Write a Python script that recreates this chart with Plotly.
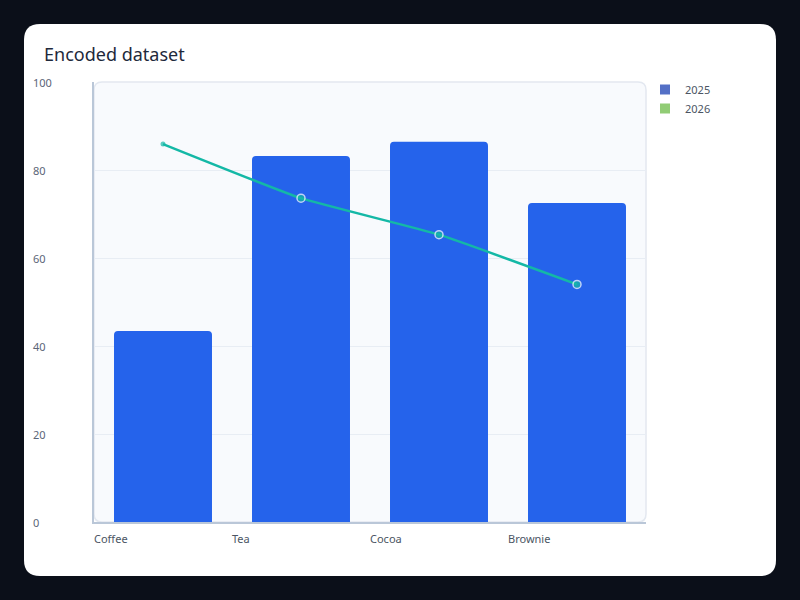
import plotly.graph_objects as go

categories = ["Coffee", "Tea", "Cocoa", "Brownie"]
bars_2025 = [43.4, 83.2, 86.4, 72.5]
line_2026 = [85.9, 73.6, 65.3, 54.0]
y_ticks = [0, 20, 40, 60, 80, 100]
legend_names = ["2025", "2026"]

W, H = 800, 600
L, R, T, B = 94, 154, 82, 78
pw, ph = W - L - R, H - T - B


def px_x(v):
    return (v - L) / pw


def px_y(v):
    return (H - B - v) / ph


def rounded_path(x0, y0, x1, y1, r):
    # pixel box -> paper coords path with rounded corners
    rx, ry = r / pw, r / ph
    a, b = px_x(x0), px_x(x1)
    top, bot = px_y(y0), px_y(y1)
    return (f"M {a + rx},{top} L {b - rx},{top} Q {b},{top} {b},{top - ry} "
            f"L {b},{bot + ry} Q {b},{bot} {b - rx},{bot} "
            f"L {a + rx},{bot} Q {a},{bot} {a},{bot + ry} "
            f"L {a},{top - ry} Q {a},{top} {a + rx},{top} Z")


fig = go.Figure()

fig.add_trace(go.Bar(
    x=categories, y=bars_2025, name=legend_names[0], showlegend=False,
    marker=dict(color="#2563eb", cornerradius=4, line=dict(width=0)),
))
fig.add_trace(go.Scatter(
    x=categories, y=line_2026, name=legend_names[1], showlegend=False,
    mode="lines+markers",
    line=dict(color="#14b8a6", width=2.5, shape="spline", smoothing=0.4),
    marker=dict(color="#14b8a6", size=[5, 8, 8, 8],
                line=dict(color="white", width=[0, 1.5, 1.5, 1.5])),
))

# legend swatches (echarts-like palette)
for name, col in zip(legend_names, ["#5470c6", "#91cc75"]):
    fig.add_trace(go.Scatter(
        x=[None], y=[None], name=name, mode="markers",
        marker=dict(symbol="square", size=10, color=col),
    ))

shapes = [
    dict(type="path", xref="paper", yref="paper", layer="below",
         path=rounded_path(24, 24, 776, 576, 16),
         fillcolor="white", line=dict(width=0)),
    dict(type="path", xref="paper", yref="paper", layer="below",
         path=rounded_path(94, 82, 646, 522, 8),
         fillcolor="#f8fafd", line=dict(color="#e3e8f0", width=1.5)),
]

annotations = []
for t in y_ticks:
    annotations.append(dict(
        x=px_x(33), xref="paper", y=t, yref="y", text=str(t),
        showarrow=False, xanchor="left", yanchor="middle", xshift=-2,
        font=dict(size=11, color="#5b6577"),
    ))
for i, c in enumerate(categories):
    annotations.append(dict(
        x=i - 0.5, xref="x", y=px_y(538), yref="paper", text=c,
        showarrow=False, xanchor="left", yanchor="middle", xshift=-2,
        font=dict(size=11, color="#4b5563"),
    ))

fig.update_layout(
    width=W, height=H,
    margin=dict(l=L, r=R, t=T, b=B),
    paper_bgcolor="#0b0f19",
    plot_bgcolor="rgba(0,0,0,0)",
    font=dict(family="Noto Sans, sans-serif", color="#4b5563"),
    title=dict(text="Encoded dataset", x=44 / W, xref="container", xanchor="left",
               y=1 - 55 / H, yref="container", yanchor="middle",
               font=dict(size=18, color="#1e293b")),
    bargap=0.29,
    shapes=shapes,
    annotations=annotations,
    showlegend=True,
    legend=dict(x=px_x(645), y=px_y(75), xanchor="left", yanchor="top",
                bgcolor="rgba(0,0,0,0)", font=dict(size=11, color="#4b5563"),
                itemwidth=30, tracegroupgap=4),
)
fig.update_xaxes(type="category", range=[-0.5, 3.5], showticklabels=False,
                 showgrid=False, showline=True, linecolor="#bac7d8", linewidth=2,
                 ticks="", zeroline=False, fixedrange=True)
fig.update_yaxes(range=[0, 100], tickvals=y_ticks, showticklabels=False,
                 showgrid=True, gridcolor="#e8edf4", gridwidth=1,
                 showline=True, linecolor="#bac7d8", linewidth=2,
                 ticks="", zeroline=False)

fig.write_html("out.html", config={"displayModeBar": False}, post_script=(
    "document.body.style.margin='0';"
    "document.body.style.background='#0b0f19';"
))
